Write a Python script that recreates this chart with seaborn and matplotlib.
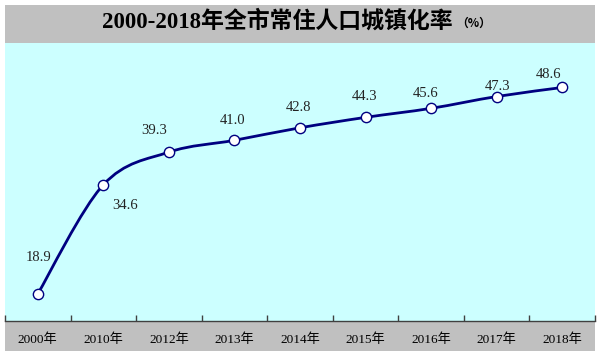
import matplotlib
matplotlib.use("Agg")
import matplotlib.pyplot as plt
from matplotlib.patches import Rectangle, PathPatch
from matplotlib.path import Path
from matplotlib.ticker import FixedLocator
import seaborn as sns
import pandas as pd

# data
years = ["2000年", "2010年", "2012年", "2013年", "2014年", "2015年", "2016年", "2017年", "2018年"]
rates = [18.9, 34.6, 39.3, 41.0, 42.8, 44.3, 45.6, 47.3, 48.6]
title = "2000-2018年全市常住人口城镇化率"
unit = "（%）"

# label offsets in pixels (dx, dy)
label_offsets = [(1, 36), (22, -21), (-15, 22), (-2, 20), (-2, 20), (-1, 21), (-6, 15), (1, 10), (-14, 13)]

sns.set_style("white")
plt.rcParams["font.family"] = ["Liberation Serif", "Noto Sans CJK SC", "DejaVu Sans"]

df = pd.DataFrame({"year": years, "rate": rates})

W, H = 600, 356
fig = plt.figure(figsize=(6, 3.56), dpi=100)
fig.patch.set_facecolor("white")

# grey panel behind everything
fig.patches.append(Rectangle((5 / W, 1 - 351 / H), 590 / W, 346 / H, transform=fig.transFigure,
                             facecolor="#c0c0c0", edgecolor="none", zorder=-5))

ax = fig.add_axes([5 / W, 1 - 321 / H, 590 / W, 278 / H])
ax.set_zorder(2)
ax.set_facecolor("#ccffff")

# smooth curve through the points (Catmull-Rom as cubic Bezier)
xs = list(range(len(rates)))
pts = list(zip(xs, rates))
verts = [pts[0]]
codes = [Path.MOVETO]
for i in range(len(pts) - 1):
    p0 = pts[i - 1] if i > 0 else pts[i]
    p1 = pts[i]
    p2 = pts[i + 1]
    p3 = pts[i + 2] if i + 2 < len(pts) else pts[i + 1]
    c1 = (p1[0] + (p2[0] - p0[0]) / 6, p1[1] + (p2[1] - p0[1]) / 6)
    c2 = (p2[0] - (p3[0] - p1[0]) / 6, p2[1] - (p3[1] - p1[1]) / 6)
    verts += [c1, c2, p2]
    codes += [Path.CURVE4] * 3
ax.add_patch(PathPatch(Path(verts, codes), facecolor="none", edgecolor="#000080", lw=2, zorder=2))

sns.scatterplot(data=df, x="year", y="rate", ax=ax, s=55, color="white",
                edgecolor="#000080", linewidth=1, zorder=3)

for i, (v, off) in enumerate(zip(rates, label_offsets)):
    ax.annotate(f"{v:.1f}", (i, v), xytext=off, textcoords="offset pixels",
                ha="center", va="center", fontsize=10.5, color="#222222")

ax.set_xlim(-0.5, len(years) - 0.5)
ax.set_ylim(15, 55)
ax.set_xlabel("")
ax.set_ylabel("")
ax.set_yticks([])
ax.set_xticks(xs)
ax.set_xticklabels(years, fontsize=9.5, color="black")
ax.xaxis.set_minor_locator(FixedLocator([i - 0.5 for i in range(len(years) + 1)]))
ax.tick_params(axis="x", which="major", length=0, pad=9)
ax.tick_params(axis="x", which="minor", length=4, direction="in", color="#404040", width=1, bottom=True)
for side in ["top", "left", "right"]:
    ax.spines[side].set_visible(False)
ax.spines["bottom"].set_color("#404040")
ax.spines["bottom"].set_linewidth(1)

fig.text(277 / W, 1 - 21 / H, title, ha="center", va="center", fontsize=16.5,
         fontweight="bold", color="black")
fig.text(456 / W, 1 - 23 / H, unit, ha="left", va="center", fontsize=8.5,
         fontweight="bold", color="black", family=["Noto Sans CJK SC", "DejaVu Sans"])

fig.savefig("out.png", dpi=100)
